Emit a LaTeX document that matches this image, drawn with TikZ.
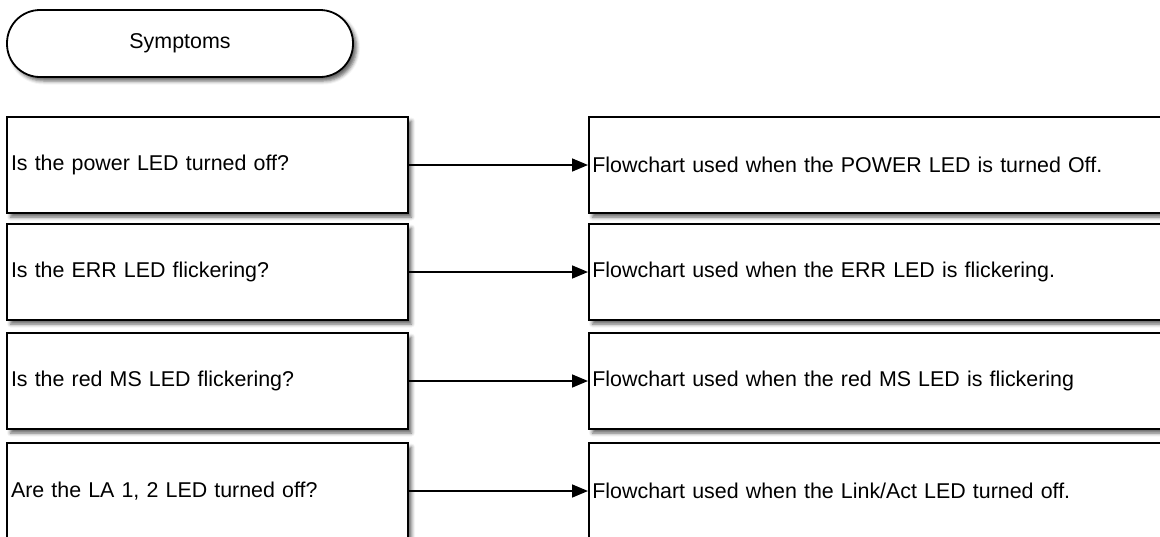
\documentclass[tikz,border=0pt]{standalone}
\usepackage{fontspec}
\setmainfont{Liberation Sans}
\usetikzlibrary{arrows.meta,shadows.blur}
\begin{document}
\begin{tikzpicture}[x=1pt,y=-1pt,
 font=\fontsize{21.4}{25}\selectfont,
 shad/.style={blur shadow={shadow xshift=3.5pt,shadow yshift=-4pt,shadow blur radius=3.5pt,shadow opacity=60}},
 term/.style={draw,line width=1.8pt,fill=white,rounded corners=33pt,minimum width=346pt,minimum height=67pt,inner sep=0pt,shad},
 qbox/.style={draw,line width=1.8pt,fill=white,minimum width=401pt,minimum height=96pt,text width=393pt,align=left,inner xsep=4pt,shad},
 abox/.style={draw,line width=1.8pt,fill=white,minimum width=600pt,minimum height=96pt,text width=593pt,align=left,inner xsep=3.5pt,shad},
 conn/.style={line width=1.6pt,-{Triangle[length=16pt,width=13pt]}}]
\useasboundingbox (0,0) rectangle (1160,536);
\clip (0,0) rectangle (1160,536);
\node[term] (sym) at (180,43.5) {Symptoms};
\node[qbox] (q1) at (207.5,165) {Is the power LED turned off?};
\node[qbox] (q2) at (207.5,272) {Is the ERR LED flickering?};
\node[qbox] (q3) at (207.5,381) {Is the red MS LED flickering?};
\node[qbox] (q4) at (207.5,491) {Are the LA 1, 2 LED turned off?};
\node[abox,anchor=west] (a1) at (588,165) {Flowchart used when the POWER LED is turned Off.};
\node[abox,anchor=west] (a2) at (588,272) {Flowchart used when the ERR LED is flickering.};
\node[abox,anchor=west] (a3) at (588,381) {Flowchart used when the red MS LED is flickering};
\node[abox,anchor=west] (a4) at (588,491) {Flowchart used when the Link/Act LED turned off.};
\draw[conn] (q1.east) -- (a1.west);
\draw[conn] (q2.east) -- (a2.west);
\draw[conn] (q3.east) -- (a3.west);
\draw[conn] (q4.east) -- (a4.west);
\end{tikzpicture}
\end{document}
